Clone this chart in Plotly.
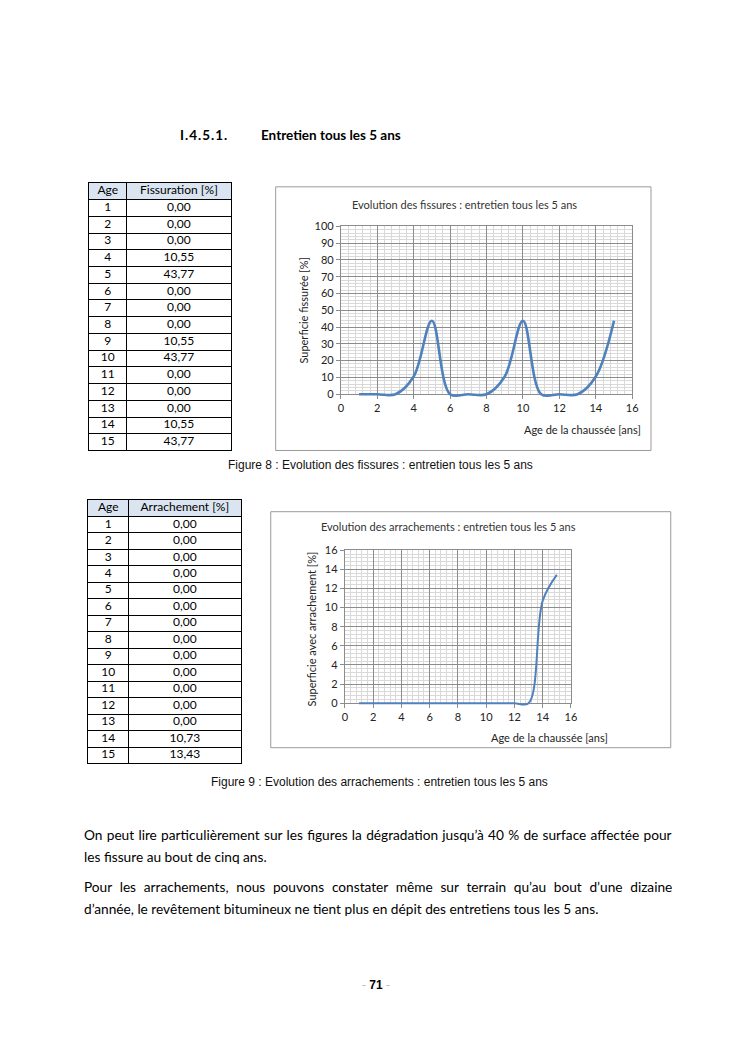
import plotly.graph_objects as go

# Page is 744x1053; the HTML body keeps its default 8px margin, so the figure
# itself is 728x1037 and page coordinates are shifted by that margin.
PAGE_W, PAGE_H = 744, 1053
M = 8
W, H = PAGE_W - 2 * M, PAGE_H - 2 * M

ages = list(range(1, 16))
fissuration = [0.00, 0.00, 0.00, 10.55, 43.77, 0.00, 0.00, 0.00, 10.55, 43.77, 0.00, 0.00, 0.00, 10.55, 43.77]
arrachement = [0.00, 0.00, 0.00, 0.00, 0.00, 0.00, 0.00, 0.00, 0.00, 0.00, 0.00, 0.00, 0.00, 10.73, 13.43]

x_ticks = [0, 2, 4, 6, 8, 10, 12, 14, 16]
y1_ticks = [0, 10, 20, 30, 40, 50, 60, 70, 80, 90, 100]
y2_ticks = [0, 2, 4, 6, 8, 10, 12, 14, 16]

table1_header = ["Age", "Fissuration [%]"]
table2_header = ["Age", "Arrachement [%]"]


def px(x):
    return (x - M) / W


def py(y):
    return 1 - (y - M) / H


def fr(v):
    return f"{v:.2f}".replace(".", ",")


BODY = "Lato"
ARIAL = "Liberation Sans"
BLUE = "#4f81bd"

# plot-area frames (page pixels)
C1 = dict(l=342, r=637, t=222, b=392, xmax=16, ymax=100)
C2 = dict(l=346, r=575, t=550, b=705, xmax=16, ymax=16)
EXT = 12  # extra room under the 0 line so the smoothed curve is not clipped

fig = go.Figure()

# ---------- tables drawn on their own axes (grid = cell borders) ----------
tfont = dict(family=BODY, size=12, color="#000")


def add_table(header, values, xa, ya, split):
    col_c = [split / 2, (1 + split) / 2]
    xs = [col_c[0], col_c[1]] + [col_c[0]] * len(ages) + [col_c[1]] * len(ages)
    ys = [0.5, 0.5] + [i + 1.5 for i in range(len(ages))] * 2
    texts = header + [str(a) for a in ages] + [fr(v) for v in values]
    fig.add_trace(go.Scatter(x=xs, y=ys, text=texts, mode="text", textposition="middle center",
                             textfont=tfont, xaxis=xa, yaxis=ya, showlegend=False, hoverinfo="skip"))


add_table(table1_header, fissuration, "x3", "y3", 38 / 144)
add_table(table2_header, arrachement, "x4", "y4", 41 / 155)

# ---------- chart axes (transparent copies so the gridded subplots exist) ----------
fig.add_trace(go.Scatter(x=ages, y=fissuration, mode="lines", line=dict(color="rgba(0,0,0,0)", width=1),
                         xaxis="x", yaxis="y", showlegend=False, hoverinfo="skip"))
fig.add_trace(go.Scatter(x=ages, y=arrachement, mode="lines", line=dict(color="rgba(0,0,0,0)", width=1),
                         xaxis="x2", yaxis="y2", showlegend=False, hoverinfo="skip"))

# ---------- visible lines: own invisible axes with the same scale, a bit taller ----------
fig.add_trace(go.Scatter(x=ages, y=fissuration, mode="lines",
                         line=dict(color=BLUE, width=2.6, shape="spline", smoothing=1),
                         xaxis="x5", yaxis="y5", showlegend=False, hoverinfo="x+y"))
fig.add_trace(go.Scatter(x=ages, y=arrachement, mode="lines",
                         line=dict(color=BLUE, width=2, shape="spline", smoothing=1),
                         xaxis="x6", yaxis="y6", showlegend=False, hoverinfo="x+y"))

tickfont = dict(family=BODY, size=11, color="#222")


def axis(domain, rng, ticks, minor, anchor):
    return dict(domain=domain, range=rng, tickvals=ticks, ticktext=[str(t) for t in ticks],
                showgrid=True, gridcolor="#8c8c8c", gridwidth=1,
                minor=dict(dtick=minor, showgrid=True, gridcolor="#d9d9d9", gridwidth=1, ticks=""),
                showline=True, linecolor="#8c8c8c", linewidth=1, mirror=True,
                ticks="outside", ticklen=4, tickcolor="#8c8c8c",
                zeroline=False, tickfont=tickfont, anchor=anchor, fixedrange=True)


def ext_xaxis(c, anchor):
    return dict(domain=[px(c["l"]), px(c["r"])], range=[0, c["xmax"]], visible=False,
                showgrid=False, zeroline=False, anchor=anchor, fixedrange=True)


def ext_yaxis(c, anchor):
    lo = -EXT * c["ymax"] / (c["b"] - c["t"])
    return dict(domain=[py(c["b"] + EXT), py(c["t"])], range=[lo, c["ymax"]], visible=False,
                showgrid=False, zeroline=False, anchor=anchor, fixedrange=True)


def taxis_x(domain, split, anchor):
    return dict(domain=domain, range=[0, 1], tickvals=[split], showticklabels=False, ticks="",
                showgrid=True, gridcolor="#000", gridwidth=1, zeroline=False,
                showline=True, linecolor="#000", linewidth=1, mirror=True, anchor=anchor, fixedrange=True)


def taxis_y(domain, n, anchor):
    return dict(domain=domain, range=[n, 0], tickvals=list(range(1, n)), showticklabels=False, ticks="",
                showgrid=True, gridcolor="#000", gridwidth=1, zeroline=False,
                showline=True, linecolor="#000", linewidth=1, mirror=True, anchor=anchor, fixedrange=True)


n_rows = len(ages) + 1
fig.update_layout(
    width=W, height=H, margin=dict(l=0, r=0, t=0, b=0),
    paper_bgcolor="#ffffff", plot_bgcolor="rgba(0,0,0,0)", showlegend=False,
    xaxis=axis([px(C1["l"]), px(C1["r"])], [0, 16], x_ticks, 0.4, "y"),
    yaxis=axis([py(C1["b"]), py(C1["t"])], [0, 100], y1_ticks, 2, "x"),
    xaxis2=axis([px(C2["l"]), px(C2["r"])], [0, 16], x_ticks, 0.4, "y2"),
    yaxis2=axis([py(C2["b"]), py(C2["t"])], [0, 16], y2_ticks, 0.4, "x2"),
    xaxis3=taxis_x([px(87), px(231)], 38 / 144, "y3"),
    yaxis3=taxis_y([py(449), py(178)], n_rows, "x3"),
    xaxis4=taxis_x([px(86), px(241)], 41 / 155, "y4"),
    yaxis4=taxis_y([py(766), py(499)], n_rows, "x4"),
    xaxis5=ext_xaxis(C1, "y5"),
    yaxis5=ext_yaxis(C1, "x5"),
    xaxis6=ext_xaxis(C2, "y6"),
    yaxis6=ext_yaxis(C2, "x6"),
)

shapes = [
    dict(type="rect", xref="paper", yref="paper", x0=px(276), x1=px(656), y0=py(449), y1=py(182),
         line=dict(color="#9a9a9a", width=1)),
    dict(type="rect", xref="paper", yref="paper", x0=px(271), x1=px(676), y0=py(750), y1=py(511),
         line=dict(color="#9a9a9a", width=1)),
    dict(type="rect", xref="x3", yref="y3", x0=0, x1=1, y0=0, y1=1, fillcolor="#dbe5f1",
         line=dict(width=0), layer="below"),
    dict(type="rect", xref="x4", yref="y4", x0=0, x1=1, y0=0, y1=1, fillcolor="#dbe5f1",
         line=dict(width=0), layer="below"),
]
fig.update_layout(shapes=shapes)

ann = []


def A(text, x, y, size, family=BODY, xanchor="left", color="#000", angle=0, bold=False):
    if bold:
        text = f"<b>{text}</b>"
    ann.append(dict(text=text, x=px(x), y=py(y), xref="paper", yref="paper", showarrow=False,
                    xanchor=xanchor, yanchor="middle", textangle=angle,
                    font=dict(family=family, size=size, color=color)))


# Heading
A("<span style='letter-spacing:1px'>I.4.5.1.</span>", 177, 130, 13.5, bold=True)
A("Entretien tous les 5 ans", 259, 130, 13.5, bold=True)

# Chart 1 texts
A("Evolution des fissures : entretien tous les 5 ans", 467, 200, 11, xanchor="center", color="#333")
A("Superficie fissurée [%]", 304, 307, 11, xanchor="center", color="#222", angle=-90)
A("Age de la chaussée [ans]", 648, 428, 11, xanchor="right", color="#222")

# Chart 2 texts
A("Evolution des arrachements : entretien tous les 5 ans", 320, 526, 11, xanchor="left", color="#333")
A("Superficie avec arrachement [%]", 312, 630, 11, xanchor="center", color="#222", angle=-90)
A("Age de la chaussée [ans]", 614, 740, 11, xanchor="right", color="#222")

# Captions
A("Figure 8 : Evolution des fissures : entretien tous les 5 ans", 382, 464, 12, family=ARIAL,
  xanchor="center", color="#111")
A("Figure 9 : Evolution des arrachements : entretien tous les 5 ans", 381, 785, 12, family=ARIAL,
  xanchor="center", color="#111")

# Body text (justified lines use word spacing)
A("<span style='word-spacing:0.75px'>On peut lire particulièrement sur les figures la dégradation jusqu’à 40 % de surface affectée pour</span>",
  80, 838, 13.7)
A("les fissure au bout de cinq ans.", 80, 860, 13.7)
A("<span style='word-spacing:4.2px'>Pour les arrachements, nous pouvons constater même sur terrain qu’au bout d’une dizaine</span>",
  80, 891, 13.7)
A("d’année, le revêtement bitumineux ne tient plus en dépit des entretiens tous les 5 ans.", 80, 913, 13.7)

# Page number
A("<span style='color:#bbb'>-</span> <b>71</b> <span style='color:#bbb'>-</span>", 378, 990, 12,
  family=ARIAL, xanchor="center")

fig.update_layout(annotations=ann)

fig.write_html("out.html", config={"displayModeBar": False})
